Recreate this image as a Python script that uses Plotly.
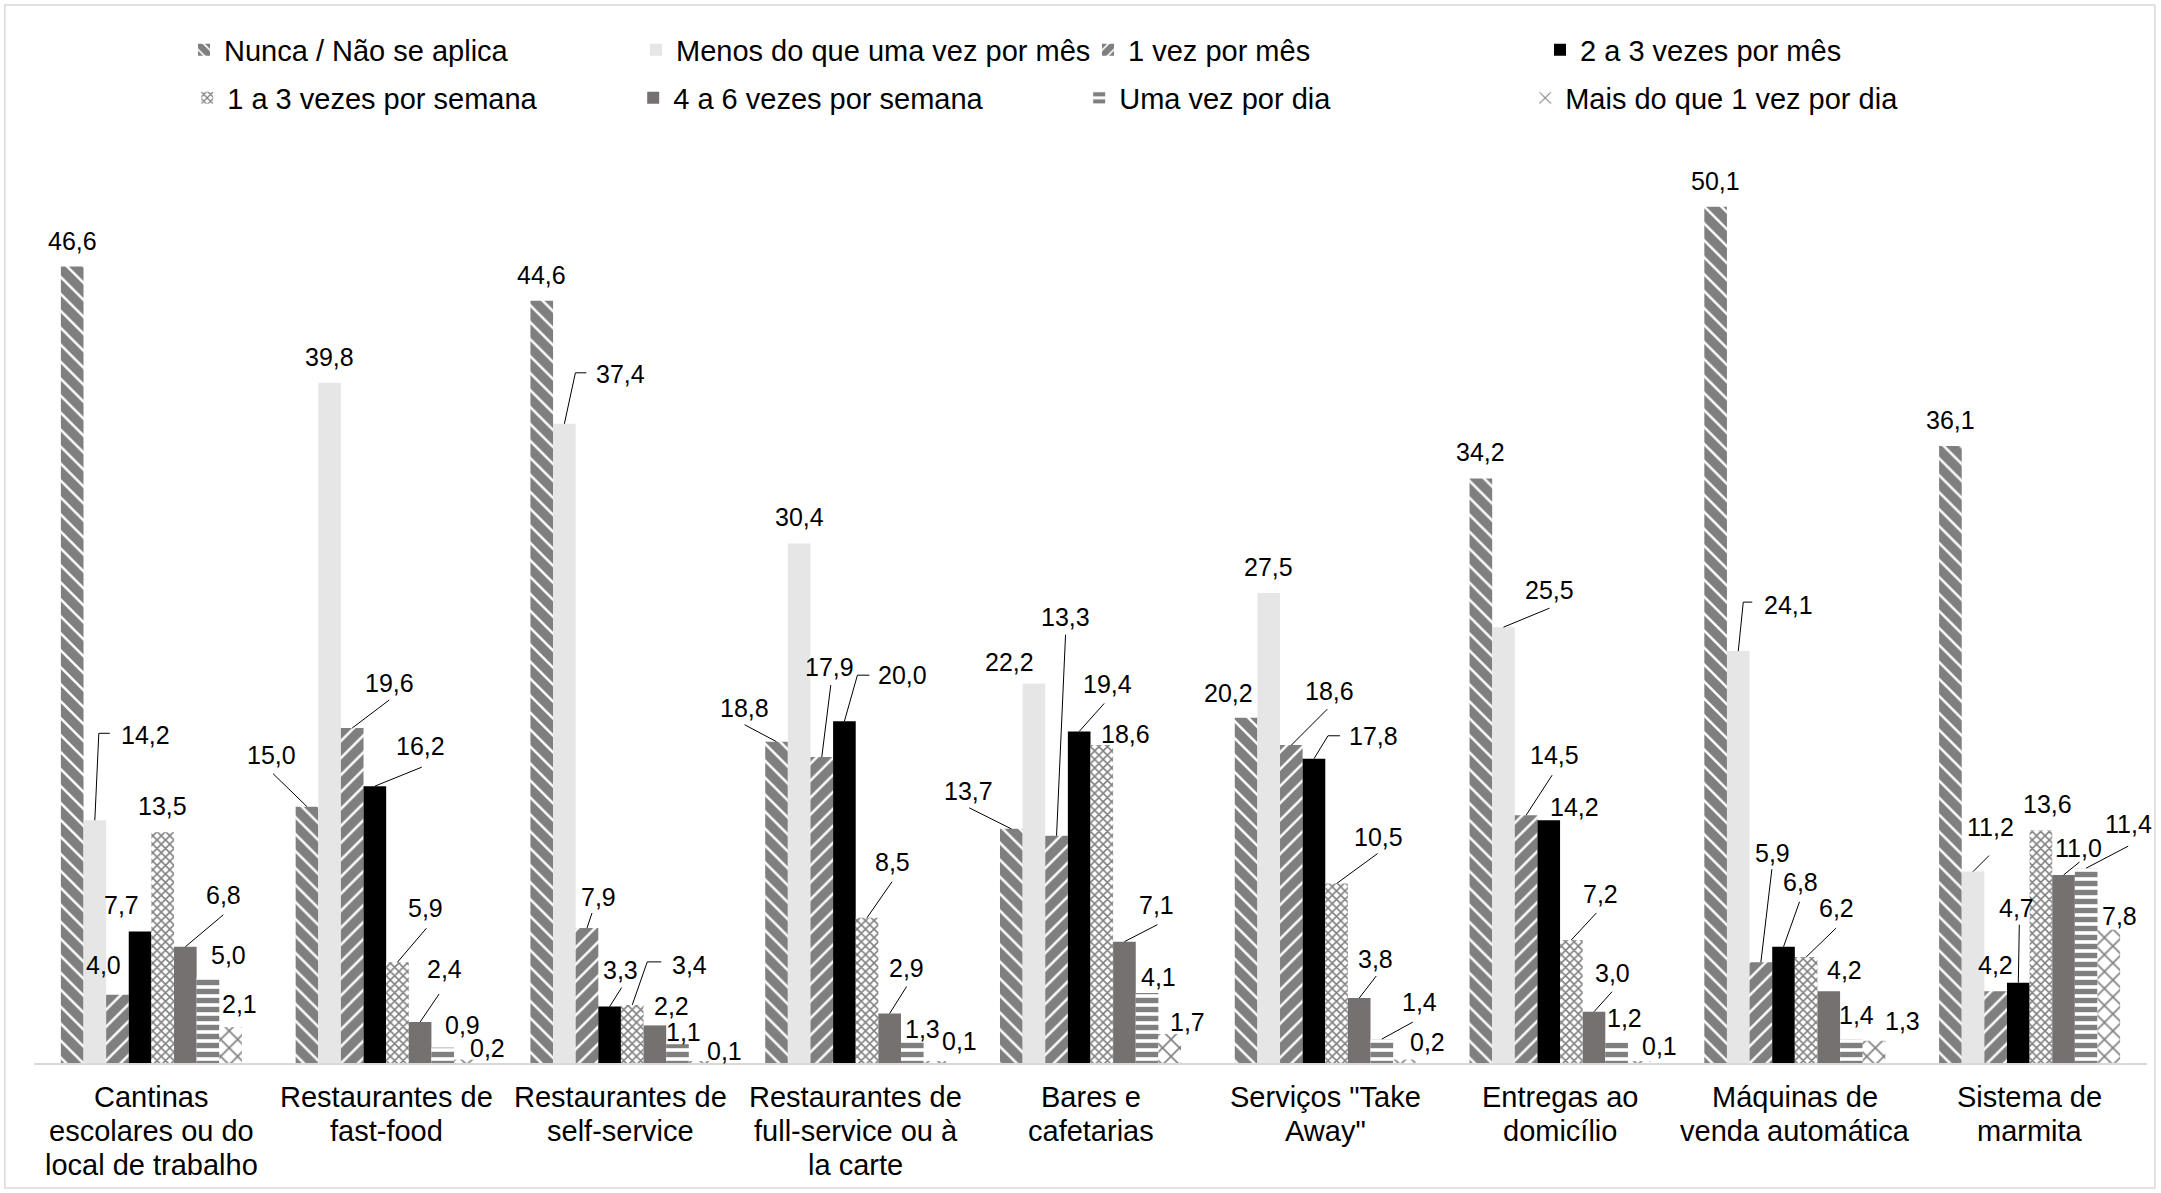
import plotly.graph_objects as go

# Categorias (eixo x) e respetivos rótulos com quebras de linha
categorias = [
    "Cantinas escolares ou do local de trabalho",
    "Restaurantes de fast-food",
    "Restaurantes de self-service",
    "Restaurantes de full-service ou à la carte",
    "Bares e cafetarias",
    "Serviços \"Take Away\"",
    "Entregas ao domicílio",
    "Máquinas de venda automática",
    "Sistema de marmita",
]
rotulos_eixo = [
    "Cantinas<br>escolares ou do<br>local de trabalho",
    "Restaurantes de<br>fast-food",
    "Restaurantes de<br>self-service",
    "Restaurantes de<br>full-service ou à<br>la carte",
    "Bares e<br>cafetarias",
    "Serviços \"Take<br>Away\"",
    "Entregas ao<br>domicílio",
    "Máquinas de<br>venda automática",
    "Sistema de<br>marmita",
]

series = [
    "Nunca / Não se aplica",
    "Menos do que uma vez por mês",
    "1 vez por mês",
    "2 a 3 vezes por mês",
    "1 a 3 vezes por semana",
    "4 a 6 vezes por semana",
    "Uma vez por dia",
    "Mais do que 1 vez por dia",
]

# Percentagens por frequência
nunca = [46.6, 15.0, 44.6, 18.8, 13.7, 20.2, 34.2, 50.1, 36.1]
menos_mes = [14.2, 39.8, 37.4, 30.4, 22.2, 27.5, 25.5, 24.1, 11.2]
uma_mes = [4.0, 19.6, 7.9, 17.9, 13.3, 18.6, 14.5, 5.9, 4.2]
duas_tres_mes = [7.7, 16.2, 3.3, 20.0, 19.4, 17.8, 14.2, 6.8, 4.7]
semana_1_3 = [13.5, 5.9, 3.4, 8.5, 18.6, 10.5, 7.2, 6.2, 13.6]
semana_4_6 = [6.8, 2.4, 2.2, 2.9, 7.1, 3.8, 3.0, 4.2, 11.0]
uma_dia = [5.0, 0.9, 1.1, 1.3, 4.1, 1.4, 1.2, 1.4, 11.4]
mais_dia = [2.1, 0.2, 0.1, 0.1, 1.7, 0.2, 0.1, 1.3, 7.8]

valores = [nunca, menos_mes, uma_mes, duas_tres_mes,
           semana_1_3, semana_4_6, uma_dia, mais_dia]

FONTE = "Liberation Sans, Arial, sans-serif"


def padrao(forma, tamanho, solidez):
    return dict(shape=forma, fgcolor="black", bgcolor="white",
                size=tamanho, solidity=solidez)


estilos = [
    dict(color="white", pattern=padrao("\\", 12, 0.8)),
    dict(color="#e7e6e6"),
    dict(color="white", pattern=padrao("/", 12, 0.8)),
    dict(color="black"),
    dict(color="white", pattern=padrao("x", 6, 0.45)),
    dict(color="#767171"),
    dict(color="white", pattern=padrao("-", 9, 0.6)),
    dict(color="white", pattern=padrao("x", 12, 0.25)),
]

BARGAP = 0.229
n_series = len(series)
largura = (1 - BARGAP) / n_series

# Posição do texto de cada rótulo (px) relativamente ao topo da barra
pos_rotulo = {
    (0, 1): (51, -85), (0, 2): (-14, -30), (0, 3): (-19, -26), (0, 5): (38, -52),
    (0, 6): (21, -23), (0, 7): (9, -23),
    (1, 0): (-35, -52), (1, 2): (37, -45), (1, 3): (46, -40), (1, 4): (28, -54),
    (1, 5): (24, -53), (1, 6): (20, -23), (1, 7): (22, -12),
    (2, 1): (56, -50), (2, 2): (11, -31), (2, 3): (11, -37), (2, 4): (57, -40),
    (2, 5): (17, -19), (2, 6): (6, -12), (2, 7): (24, -10),
    (3, 0): (-32, -34), (3, 2): (8, -90), (3, 3): (58, -46), (3, 4): (25, -56),
    (3, 5): (17, -45), (3, 6): (10, -12), (3, 7): (25, -20),
    (4, 0): (-43, -38), (4, 1): (-24, -22), (4, 2): (9, -219), (4, 3): (28, -47),
    (4, 4): (24, -11), (4, 5): (32, -37), (4, 6): (11, -16), (4, 7): (18, -12),
    (5, 0): (-18, -25), (5, 2): (38, -54), (5, 3): (60, -23), (5, 4): (42, -47),
    (5, 5): (16, -39), (5, 6): (38, -37), (5, 7): (23, -18),
    (6, 1): (46, -37), (6, 2): (28, -60), (6, 3): (26, -13), (6, 4): (29, -46),
    (6, 5): (18, -39), (6, 6): (8, -24), (6, 7): (20, -15),
    (7, 1): (50, -46), (7, 2): (12, -109), (7, 3): (17, -65), (7, 4): (30, -49),
    (7, 5): (16, -21), (7, 6): (5, -24), (7, 7): (28, -20),
    (8, 1): (17, -45), (8, 3): (-2, -75), (8, 4): (7, -27), (8, 5): (15, -27),
    (8, 6): (42, -44), (8, 7): (11, -14),
}
pos_padrao = (0, -26)

# Linhas de chamada (px, y para baixo) a partir do topo da barra
chamadas = {
    (0, 1): [(4, -87), (15, -87)], (0, 5): [(38, -32)],
    (1, 0): [(-34, -33)], (1, 2): [(37, -28)], (1, 3): [(47, -19)],
    (1, 4): [(29, -34)], (1, 5): [(19, -28)],
    (2, 1): [(11, -51), (22, -51)], (2, 2): [(5, -15)], (2, 3): [(12, -19)],
    (2, 4): [(15, -43), (29, -43)],
    (3, 0): [(-32, -17)], (3, 2): [(9, -72)], (3, 3): [(13, -46), (25, -46)],
    (3, 4): [(25, -36)], (3, 5): [(17, -27)],
    (4, 0): [(-42, -21)], (4, 2): [(9, -201)], (4, 3): [(25, -28)], (4, 5): [(33, -17)],
    (5, 2): [(36, -36)], (5, 3): [(14, -23), (26, -23)], (5, 4): [(41, -30)],
    (5, 5): [(17, -22)], (5, 6): [(31, -17)],
    (6, 1): [(46, -19)], (6, 2): [(26, -40)], (6, 4): [(25, -27)], (6, 5): [(18, -20)],
    (7, 1): [(5, -49), (14, -49)], (7, 2): [(11, -93)], (7, 3): [(16, -45)],
    (7, 4): [(30, -29)],
    (8, 1): [(16, -16)], (8, 3): [(1, -58)], (8, 5): [(16, -13)], (8, 6): [(42, -22)],
}

xs = list(range(len(categorias)))

fig = go.Figure()
for j, (nome, vals, est) in enumerate(zip(series, valores, estilos)):
    fig.add_trace(go.Bar(
        x=xs, y=vals, name=nome,
        marker=dict(line=dict(width=0), **est),
        legend="legend" if j < 4 else "legend2",
        hoverinfo="skip",
    ))

anotacoes = []
formas = []
for j, vals in enumerate(valores):
    for i, v in enumerate(vals):
        xc = i + (j - (n_series - 1) / 2) * largura
        dx, dy = pos_rotulo.get((i, j), pos_padrao)
        anotacoes.append(dict(
            x=xc, y=v, xref="x", yref="y", text=f"{v:.1f}".replace(".", ","),
            showarrow=False, xshift=dx, yshift=-dy,
            xanchor="center", yanchor="middle",
            font=dict(family=FONTE, size=25, color="black"),
        ))
        if (i, j) in chamadas:
            caminho = "M0,0 " + " ".join(f"L{px},{-py}" for px, py in chamadas[(i, j)])
            formas.append(dict(
                type="path", xref="x", yref="y",
                xsizemode="pixel", ysizemode="pixel",
                xanchor=xc, yanchor=v, path=caminho,
                line=dict(color="black", width=1),
            ))

# Rótulos das categorias, linha a linha, sob o eixo
for i, rotulo in enumerate(rotulos_eixo):
    for k, linha in enumerate(rotulo.split("<br>")):
        anotacoes.append(dict(
            x=i, y=0, xref="x", yref="y", text=linha, showarrow=False,
            xanchor="center", yanchor="middle", yshift=-(34 + 34 * k),
            font=dict(family=FONTE, size=29, color="black"),
        ))

# Moldura da área do gráfico
formas.append(dict(
    type="rect", xref="paper", yref="paper",
    x0=-0.0138, x1=1.0037, y0=-0.133, y1=1.1255,
    line=dict(color="#d9d9d9", width=1.5), fillcolor="rgba(0,0,0,0)",
    layer="below",
))

legenda_base = dict(
    orientation="h", xanchor="left", yanchor="middle",
    entrywidthmode="pixels", itemwidth=30,
    font=dict(family=FONTE, size=29, color="black"),
    bgcolor="rgba(0,0,0,0)", traceorder="normal",
    itemclick=False, itemdoubleclick=False,
)

fig.update_layout(
    width=2161, height=1193,
    margin=dict(l=34, r=14, t=123, b=130, autoexpand=False),
    paper_bgcolor="white", plot_bgcolor="white",
    barmode="group", bargap=BARGAP, bargroupgap=0,
    font=dict(family=FONTE, color="black"),
    xaxis=dict(
        range=[-0.5, len(categorias) - 0.5],
        tickvals=xs, showticklabels=False,
        showgrid=False, zeroline=False,
        showline=True, linecolor="#d9d9d9", linewidth=2,
        ticks="", automargin=False,
    ),
    yaxis=dict(range=[0, 55], visible=False, showgrid=False, zeroline=False,
               automargin=False),
    legend=dict(x=0.071, y=1.0777, entrywidth=407, **legenda_base),
    legend2=dict(x=0.0725, y=1.0266, entrywidth=401, **legenda_base),
    annotations=anotacoes,
    shapes=formas,
    hovermode=False,
)

fig.write_html("out.html", config={"displayModeBar": False})
